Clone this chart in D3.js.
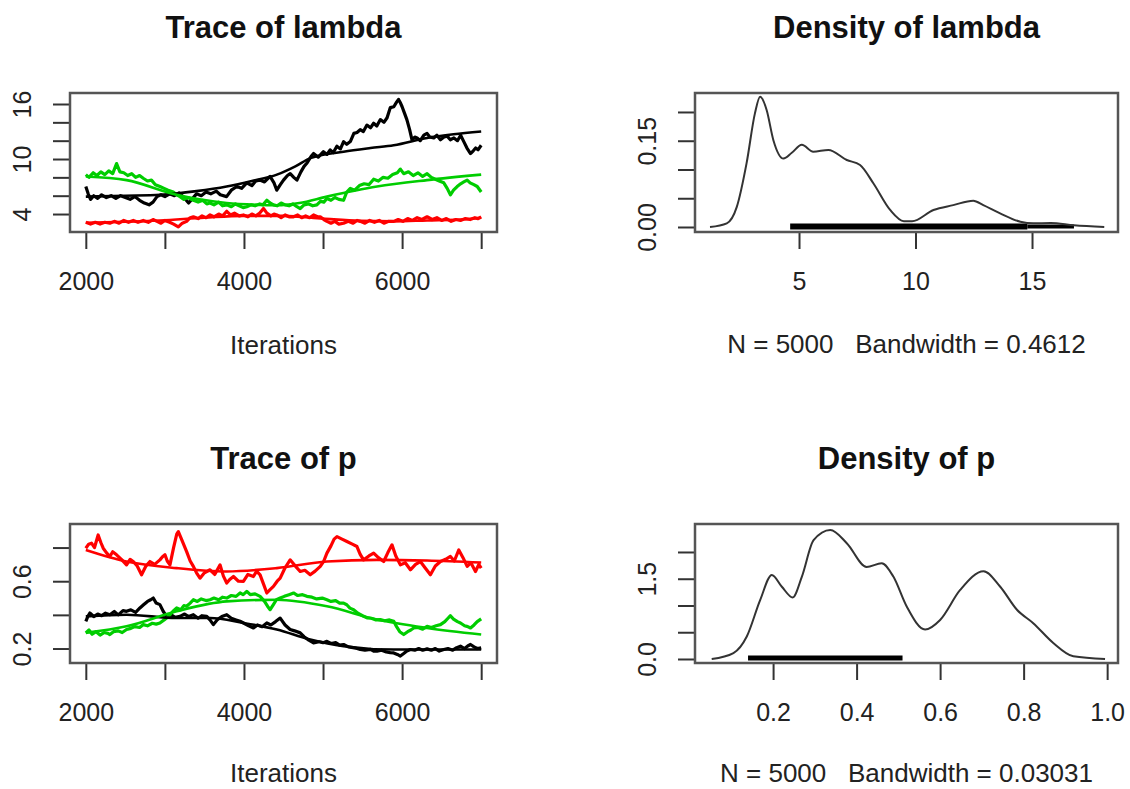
<!DOCTYPE html>
<html><head><meta charset="utf-8">
<script src="https://cdn.jsdelivr.net/npm/d3@7"></script>
<style>html,body{margin:0;padding:0;background:#fff;} svg{display:block;font-family:"Liberation Sans",Arial,Helvetica,sans-serif;}</style>
</head><body><svg id="chart" width="1130" height="789"></svg>
<script>
// ---------- data ----------
const iterTicks = [2000, 3000, 4000, 5000, 6000, 7000];
const iterTickLabels = ["2000", "", "4000", "", "6000", ""];

const lambdaTicks = [4, 6, 8, 10, 12, 14, 16];
const lambdaTickLabels = ["4", "", "", "10", "", "", "16"];
const pTicks = [0.2, 0.4, 0.6, 0.8];
const pTickLabels = ["0.2", "", "0.6", ""];

const lambdaDensXTicks = [5, 10, 15];
const lambdaDensXLabels = ["5", "10", "15"];
const lambdaDensYTicks = [0, 0.05, 0.10, 0.15, 0.20];
const lambdaDensYLabels = ["0.00", "", "", "0.15", ""];
const pDensXTicks = [0.2, 0.4, 0.6, 0.8, 1.0];
const pDensXLabels = ["0.2", "0.4", "0.6", "0.8", "1.0"];
const pDensYTicks = [0, 0.5, 1.0, 1.5, 2.0];
const pDensYLabels = ["0.0", "", "", "1.5", ""];

// lambda chains [iteration, value]
const lambdaChain1 = [[2000,7.0],[2030,6.2],[2060,5.6],[2100,6.0],[2150,5.7],[2200,6.1],[2260,5.8],[2320,6.0],[2380,5.7],[2440,6.0],[2500,5.8],[2560,5.6],[2620,5.9],[2680,5.5],[2740,5.2],[2800,5.0],[2850,5.3],[2900,5.9],[2950,6.1],[3000,5.9],[3060,6.2],[3120,6.0],[3180,6.3],[3240,5.8],[3300,5.2],[3340,5.6],[3400,6.2],[3460,6.0],[3520,6.4],[3580,6.2],[3650,6.5],[3700,6.1],[3780,5.9],[3840,6.6],[3910,7.0],[3970,6.8],[4035,7.4],[4100,7.1],[4150,7.6],[4200,7.7],[4260,7.5],[4330,8.1],[4380,7.4],[4415,6.6],[4460,7.2],[4500,7.7],[4550,8.2],[4585,8.4],[4630,8.0],[4670,7.7],[4720,8.6],[4760,9.2],[4800,9.6],[4850,10.3],[4880,10.6],[4940,10.2],[5005,10.8],[5050,10.5],[5090,11.0],[5130,10.7],[5175,11.4],[5220,11.1],[5260,11.9],[5300,11.6],[5345,11.9],[5390,12.8],[5430,12.9],[5470,13.2],[5510,13.0],[5555,13.7],[5600,13.4],[5640,13.9],[5680,13.6],[5725,14.3],[5770,14.0],[5810,14.5],[5850,15.6],[5895,15.7],[5930,16.2],[5955,16.5],[5980,16.1],[6000,15.7],[6030,15.0],[6060,14.3],[6095,13.2],[6125,12.1],[6160,12.4],[6190,12.3],[6230,12.0],[6275,12.6],[6315,12.8],[6350,12.4],[6400,12.3],[6440,12.6],[6485,12.1],[6530,12.4],[6570,12.5],[6610,12.1],[6655,12.3],[6700,12.0],[6740,12.6],[6780,11.9],[6820,11.2],[6865,10.6],[6900,10.9],[6930,11.2],[6960,11.0],[7000,11.5]];
const lambdaChain2 = [[2000,3.1],[2060,2.9],[2120,3.1],[2180,2.9],[2240,3.1],[2304,3.0],[2360,3.2],[2420,3.0],[2480,3.3],[2540,3.1],[2600,3.3],[2660,3.1],[2726,3.3],[2790,3.1],[2850,3.4],[2900,3.2],[2950,3.0],[3000,3.3],[3060,3.1],[3110,2.9],[3170,2.6],[3220,3.0],[3275,3.2],[3320,3.6],[3360,3.7],[3420,3.5],[3470,3.8],[3520,3.6],[3571,3.9],[3620,3.7],[3680,4.0],[3730,3.8],[3782,4.3],[3830,3.9],[3880,4.1],[3940,3.8],[3993,3.9],[4050,3.7],[4100,4.0],[4150,3.8],[4200,4.1],[4247,4.6],[4290,4.1],[4340,3.8],[4380,4.0],[4416,3.9],[4470,3.6],[4520,3.9],[4570,3.7],[4627,3.7],[4680,3.9],[4730,3.6],[4780,3.8],[4830,3.6],[4880,3.9],[4930,3.7],[4965,3.7],[5010,3.4],[5049,3.2],[5100,3.0],[5150,3.2],[5200,2.9],[5260,3.0],[5320,3.2],[5380,3.0],[5430,3.3],[5471,3.2],[5530,3.0],[5590,3.3],[5650,3.1],[5710,3.3],[5770,3.0],[5830,3.2],[5894,3.2],[5950,3.4],[6010,3.2],[6070,3.5],[6130,3.3],[6190,3.6],[6250,3.4],[6316,3.7],[6380,3.4],[6440,3.6],[6500,3.3],[6560,3.5],[6620,3.2],[6680,3.4],[6738,3.3],[6800,3.5],[6860,3.4],[6920,3.6],[6960,3.5],[7000,3.7]];
const lambdaChain3 = [[2000,8.3],[2040,8.0],[2093,8.5],[2140,8.2],[2190,8.6],[2240,8.3],[2290,8.7],[2340,8.4],[2389,9.5],[2431,8.6],[2480,8.5],[2530,8.2],[2580,8.4],[2630,8.0],[2680,8.2],[2726,7.9],[2780,7.6],[2830,7.7],[2880,7.2],[2937,7.0],[2990,6.8],[3040,6.6],[3106,6.4],[3150,6.1],[3191,5.9],[3240,5.6],[3290,5.8],[3360,5.5],[3420,5.3],[3480,5.5],[3530,5.1],[3571,5.2],[3620,5.0],[3680,5.3],[3730,4.9],[3782,5.0],[3840,4.8],[3890,5.1],[3940,4.9],[3990,4.7],[4036,4.8],[4090,5.0],[4140,4.9],[4200,5.1],[4240,5.0],[4289,5.5],[4330,5.2],[4373,5.0],[4420,4.9],[4470,5.2],[4520,5.0],[4570,4.9],[4620,5.1],[4670,4.8],[4711,4.6],[4760,5.0],[4820,5.1],[4870,4.9],[4922,5.0],[4970,5.4],[5010,5.3],[5049,5.7],[5100,5.5],[5150,5.8],[5200,5.6],[5260,5.5],[5300,6.4],[5345,6.8],[5400,6.6],[5460,7.1],[5520,7.3],[5580,7.2],[5640,7.8],[5700,7.6],[5760,8.0],[5820,7.9],[5880,8.3],[5940,8.5],[5978,8.9],[6020,8.4],[6080,8.6],[6140,8.2],[6200,8.5],[6260,8.1],[6316,8.4],[6370,8.0],[6420,7.8],[6470,7.6],[6527,7.4],[6570,6.8],[6611,6.1],[6650,6.6],[6696,7.0],[6740,7.3],[6780,7.5],[6823,7.7],[6860,7.4],[6907,7.2],[6950,7.0],[7000,6.4]];
const lambdaSmooth1 = [[2000,5.9],[2500,6.0],[2940,6.1],[3400,6.5],[3780,7.0],[4100,7.6],[4416,8.3],[4650,9.2],[4840,10.1],[5260,10.8],[5600,11.2],[5894,11.5],[6316,12.3],[6650,12.7],[7000,13.0]];
const lambdaSmooth2 = [[2000,3.05],[2500,3.15],[2937,3.3],[3500,3.6],[3993,3.8],[4500,3.8],[5000,3.5],[5471,3.25],[5894,3.2],[6316,3.3],[6738,3.4],[7000,3.6]];
const lambdaSmooth3 = [[2000,8.1],[2515,7.7],[3149,6.1],[3782,5.2],[4200,5.0],[4416,4.95],[4700,5.2],[5049,5.9],[5682,7.0],[6316,7.7],[7000,8.3]];

// p chains [iteration, value]
const pChain1 = [[2000,.362],[2025,.39],[2051,.411],[2100,.39],[2150,.405],[2200,.395],[2250,.41],[2304,.401],[2360,.42],[2410,.40],[2470,.425],[2515,.421],[2570,.43],[2630,.415],[2684,.441],[2730,.46],[2780,.48],[2820,.49],[2853,.500],[2890,.47],[2937,.461],[2980,.42],[3022,.391],[3080,.40],[3130,.385],[3191,.391],[3250,.405],[3300,.39],[3360,.401],[3420,.38],[3470,.395],[3529,.391],[3570,.37],[3613,.342],[3660,.37],[3720,.39],[3782,.401],[3840,.38],[3900,.37],[3951,.362],[4000,.35],[4060,.335],[4120,.322],[4170,.34],[4230,.33],[4289,.352],[4340,.34],[4400,.36],[4458,.381],[4520,.34],[4584,.313],[4640,.305],[4711,.293],[4760,.27],[4820,.25],[4880,.234],[4950,.24],[5000,.235],[5049,.243],[5100,.23],[5160,.235],[5210,.22],[5260,.224],[5320,.21],[5380,.205],[5430,.20],[5471,.194],[5530,.19],[5600,.195],[5640,.185],[5682,.184],[5740,.19],[5800,.18],[5850,.176],[5894,.174],[5940,.165],[5978,.155],[6020,.17],[6060,.185],[6105,.194],[6160,.19],[6210,.2],[6260,.19],[6316,.198],[6370,.19],[6420,.2],[6470,.185],[6527,.194],[6580,.2],[6640,.19],[6690,.205],[6738,.214],[6790,.2],[6830,.215],[6865,.224],[6910,.21],[6950,.2],[7000,.204]];
const pChain2 = [[2000,.796],[2036,.82],[2072,.826],[2110,.80],[2156,.875],[2190,.83],[2220,.796],[2260,.77],[2304,.747],[2340,.775],[2389,.757],[2450,.73],[2515,.697],[2560,.73],[2600,.717],[2650,.69],[2705,.638],[2760,.69],[2811,.717],[2870,.70],[2937,.727],[2970,.745],[3001,.757],[3030,.72],[3064,.697],[3110,.80],[3150,.88],[3170,.895],[3210,.85],[3275,.776],[3320,.72],[3360,.688],[3400,.65],[3444,.618],[3500,.65],[3571,.668],[3630,.64],[3698,.697],[3740,.63],[3782,.589],[3820,.61],[3867,.628],[3930,.60],[3993,.599],[4050,.64],[4120,.628],[4160,.66],[4204,.638],[4250,.58],[4289,.530],[4330,.55],[4373,.569],[4420,.60],[4458,.618],[4520,.68],[4584,.727],[4650,.69],[4711,.658],[4770,.665],[4838,.638],[4900,.66],[4965,.688],[5010,.72],[5049,.767],[5100,.81],[5140,.85],[5176,.865],[5240,.85],[5302,.836],[5370,.82],[5429,.806],[5470,.76],[5513,.727],[5580,.75],[5640,.767],[5700,.74],[5767,.717],[5820,.77],[5872,.816],[5920,.75],[5978,.697],[6040,.71],[6105,.668],[6170,.70],[6231,.717],[6290,.68],[6358,.638],[6420,.69],[6485,.717],[6550,.73],[6611,.747],[6660,.72],[6717,.786],[6770,.74],[6823,.688],[6870,.71],[6928,.658],[6970,.70],[7000,.678]];
const pChain3 = [[2000,.293],[2040,.31],[2080,.285],[2130,.30],[2180,.28],[2230,.295],[2280,.29],[2304,.283],[2350,.30],[2410,.305],[2460,.295],[2515,.313],[2570,.32],[2620,.33],[2680,.325],[2726,.342],[2780,.335],[2840,.35],[2890,.345],[2937,.352],[2990,.37],[3030,.385],[3064,.401],[3100,.42],[3149,.441],[3200,.43],[3240,.455],[3275,.451],[3320,.47],[3360,.490],[3410,.48],[3460,.495],[3520,.485],[3571,.490],[3620,.5],[3680,.49],[3730,.505],[3782,.500],[3840,.515],[3900,.51],[3951,.530],[3990,.52],[4036,.540],[4080,.52],[4140,.525],[4204,.510],[4260,.48],[4300,.45],[4331,.431],[4370,.46],[4410,.49],[4458,.500],[4510,.51],[4570,.52],[4627,.530],[4680,.515],[4740,.52],[4796,.510],[4860,.505],[4920,.495],[4990,.5],[5049,.490],[5100,.48],[5160,.485],[5210,.47],[5260,.470],[5300,.46],[5340,.44],[5387,.431],[5440,.41],[5500,.395],[5556,.382],[5610,.38],[5670,.37],[5725,.372],[5780,.365],[5840,.37],[5894,.362],[5930,.33],[5970,.30],[6020,.283],[6070,.30],[6110,.31],[6147,.322],[6200,.325],[6260,.315],[6316,.332],[6370,.325],[6430,.335],[6485,.342],[6540,.36],[6580,.38],[6611,.395],[6650,.375],[6700,.36],[6738,.352],[6790,.335],[6830,.33],[6865,.322],[6910,.34],[6950,.36],[7000,.376]];
const pSmooth1 = [[2000,.391],[2515,.401],[3149,.381],[3571,.381],[3993,.352],[4416,.313],[4838,.253],[5260,.214],[5894,.194],[7000,.194]];
const pSmooth2 = [[2000,.786],[2515,.717],[3149,.678],[3782,.658],[4416,.678],[5049,.717],[5682,.727],[6316,.723],[7000,.711]];
const pSmooth3 = [[2000,.293],[2515,.332],[3149,.421],[3782,.480],[4416,.490],[5049,.451],[5682,.372],[6316,.322],[7000,.283]];

// densities [x, density]
const lambdaDensity = [[1.18,0],[1.9,0.0064],[2.33,0.035],[2.75,0.111],[3.11,0.198],[3.33,0.2266],[3.61,0.2035],[3.90,0.151],[4.33,0.119],[4.69,0.129],[5.12,0.143],[5.61,0.131],[6.26,0.134],[7.05,0.1165],[7.62,0.1078],[8.19,0.076],[8.91,0.0296],[9.5,0.010],[9.85,0.010],[10.77,0.0296],[11.62,0.038],[12.48,0.0457],[12.91,0.038],[13.63,0.0238],[14.5,0.0092],[15.05,0.0064],[15.8,0.007],[16.8,0.003],[18.1,0]];
const pDensity = [[0.053,0],[0.105,0.11],[0.137,0.42],[0.169,1.1],[0.197,1.57],[0.221,1.35],[0.247,1.15],[0.269,1.54],[0.297,2.22],[0.337,2.41],[0.377,2.16],[0.424,1.72],[0.46,1.79],[0.488,1.54],[0.52,0.98],[0.564,0.55],[0.6,0.73],[0.648,1.29],[0.704,1.64],[0.744,1.35],[0.784,0.92],[0.823,0.67],[0.871,0.30],[0.919,0.05],[0.995,0]];
const lambdaRugDense = [4.62, 14.8];
const lambdaRugSparse = [14.8, 16.8];
const pRug = [0.14, 0.51];

const chainColors = ["#000000", "#ff0000", "#00cd00"];

// ---------- drawing ----------
const svg = d3.select("#chart");
const FONT = '"Liberation Sans", Arial, Helvetica, sans-serif';

function panel(o) {
  const g = svg.append("g");
  const x = d3.scaleLinear().domain(o.xDomain).range(o.xr);
  const y = d3.scaleLinear().domain(o.yDomain).range([o.yr[1], o.yr[0]]);

  // x axis
  const xa = g.append("g").attr("transform", `translate(0,${o.yr[1]})`)
    .call(d3.axisBottom(x).tickValues(o.xTicks).tickSize(17).tickSizeOuter(0)
      .tickFormat((d, i) => o.xLabels[i]));
  xa.select(".domain").remove();
  xa.selectAll(".tick line").attr("stroke", "#333").attr("stroke-width", 2);
  xa.selectAll(".tick text").attr("y", 58).attr("dy", null)
    .attr("font-size", 25).attr("font-family", FONT).attr("fill", "#222");
  g.append("line").attr("x1", x(o.xTicks[0])).attr("x2", x(o.xTicks[o.xTicks.length - 1]))
    .attr("y1", o.yr[1]).attr("y2", o.yr[1]).attr("stroke", "#333").attr("stroke-width", 2);

  // y axis
  const ya = g.append("g").attr("transform", `translate(${o.xr[0]},0)`)
    .call(d3.axisLeft(y).tickValues(o.yTicks).tickSize(17).tickSizeOuter(0)
      .tickFormat((d, i) => o.yLabels[i]));
  ya.select(".domain").remove();
  ya.selectAll(".tick line").attr("stroke", "#333").attr("stroke-width", 2);
  ya.selectAll(".tick text").attr("x", null).attr("dy", null)
    .attr("transform", "translate(-39,0) rotate(-90)")
    .attr("text-anchor", "middle")
    .attr("font-size", 25).attr("font-family", FONT).attr("fill", "#222");
  g.append("line").attr("y1", y(o.yTicks[0])).attr("y2", y(o.yTicks[o.yTicks.length - 1]))
    .attr("x1", o.xr[0]).attr("x2", o.xr[0]).attr("stroke", "#333").attr("stroke-width", 2);

  // clip
  const cid = "clip" + Math.round(o.xr[0]) + "_" + Math.round(o.yr[0]);
  g.append("clipPath").attr("id", cid).append("rect")
    .attr("x", o.xr[0]).attr("y", o.yr[0])
    .attr("width", o.xr[1] - o.xr[0]).attr("height", o.yr[1] - o.yr[0]);
  const plot = g.append("g").attr("clip-path", `url(#${cid})`);

  // title
  const cx = (o.xr[0] + o.xr[1]) / 2;
  g.append("text").attr("x", cx).attr("y", o.yr[0] - 55).attr("text-anchor", "middle")
    .attr("font-size", 31).attr("font-weight", "bold").attr("font-family", FONT).attr("fill", "#111")
    .text(o.title);
  g.append("text").attr("x", cx).attr("y", o.yr[1] + o.subOffset).attr("text-anchor", "middle")
    .attr("font-size", 26).attr("font-family", FONT).attr("fill", "#222")
    .style("white-space", "pre").attr("xml:space", "preserve")
    .text(o.sub);

  return {g, plot, x, y, box: () => g.append("rect").attr("x", o.xr[0]).attr("y", o.yr[0])
    .attr("width", o.xr[1] - o.xr[0]).attr("height", o.yr[1] - o.yr[0])
    .attr("fill", "none").attr("stroke", "#555").attr("stroke-width", 2.5)};
}

function tracePanel(o, chains, smooths) {
  const p = panel(o);
  const line = d3.line().x(d => p.x(d[0])).y(d => p.y(d[1]));
  chains.forEach((c, i) => {
    p.plot.append("path").datum(c).attr("d", line).attr("fill", "none")
      .attr("stroke", chainColors[i]).attr("stroke-width", 3.2).attr("stroke-linejoin", "round");
  });
  const sline = d3.line().x(d => p.x(d[0])).y(d => p.y(d[1])).curve(d3.curveMonotoneX);
  smooths.forEach((c, i) => {
    p.plot.append("path").datum(c).attr("d", sline).attr("fill", "none")
      .attr("stroke", chainColors[i]).attr("stroke-width", 2.6);
  });
  p.box();
}

function densPanel(o, dens, rugs) {
  const p = panel(o);
  const line = d3.line().x(d => p.x(d[0])).y(d => p.y(d[1])).curve(d3.curveMonotoneX);
  rugs.forEach(r => {
    p.plot.append("line").attr("x1", p.x(r.ext[0])).attr("x2", p.x(r.ext[1]))
      .attr("y1", p.y(0) - r.off).attr("y2", p.y(0) - r.off)
      .attr("stroke", "#000").attr("stroke-width", r.w);
  });
  p.plot.append("path").datum(dens).attr("d", line).attr("fill", "none")
    .attr("stroke", "#333").attr("stroke-width", 2);
  p.box();
}

const L = [70, 497], R = [695, 1118];
const TOP = [93, 232], BOT = [524, 663];

tracePanel({xr: L, yr: TOP, xDomain: [1800, 7200], yDomain: [2.04, 17.2],
  xTicks: iterTicks, xLabels: iterTickLabels, yTicks: lambdaTicks, yLabels: lambdaTickLabels,
  title: "Trace of lambda", sub: "Iterations", subOffset: 122},
  [lambdaChain1, lambdaChain2, lambdaChain3], [lambdaSmooth1, lambdaSmooth2, lambdaSmooth3]);

tracePanel({xr: L, yr: BOT, xDomain: [1800, 7200], yDomain: [0.114, 0.94],
  xTicks: iterTicks, xLabels: iterTickLabels, yTicks: pTicks, yLabels: pTickLabels,
  title: "Trace of p", sub: "Iterations", subOffset: 119},
  [pChain1, pChain2, pChain3], [pSmooth1, pSmooth2, pSmooth3]);

densPanel({xr: R, yr: TOP, xDomain: [0.536, 18.69], yDomain: [-0.0087, 0.233],
  xTicks: lambdaDensXTicks, xLabels: lambdaDensXLabels, yTicks: lambdaDensYTicks, yLabels: lambdaDensYLabels,
  title: "Density of lambda", sub: "N = 5000   Bandwidth = 0.4612", subOffset: 121},
  lambdaDensity, [{ext: lambdaRugDense, w: 6, off: 0.5}, {ext: lambdaRugSparse, w: 4, off: 0.5}]);

densPanel({xr: R, yr: BOT, xDomain: [0.013, 1.026], yDomain: [-0.075, 2.523],
  xTicks: pDensXTicks, xLabels: pDensXLabels, yTicks: pDensYTicks, yLabels: pDensYLabels,
  title: "Density of p", sub: "N = 5000   Bandwidth = 0.03031", subOffset: 119},
  pDensity, [{ext: pRug, w: 5, off: 1}]);
</script></body></html>
